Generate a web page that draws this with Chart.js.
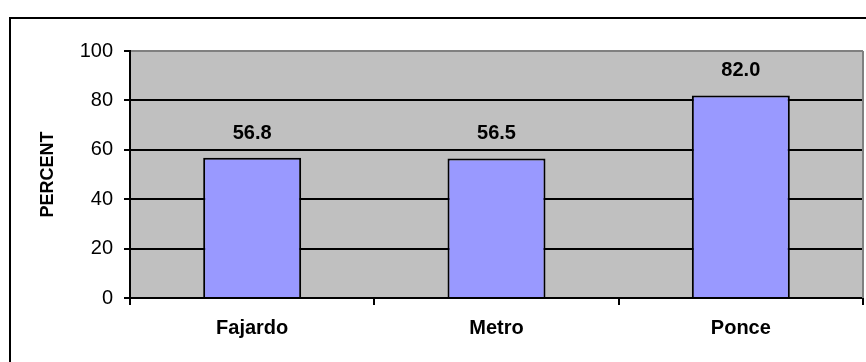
<!DOCTYPE html>
<html>
<head>
<meta charset="utf-8">
<script src="https://cdn.jsdelivr.net/npm/chart.js@4"></script>
<style>
  html, body { margin: 0; padding: 0; background: #fff; overflow: hidden; }
  #frame {
    position: absolute; left: 9px; top: 17px;
    width: 2000px; height: 2000px;
    border-left: 2px solid #000; border-top: 2px solid #000;
  }
  #percent-chart { position: absolute; left: 0; top: 0; }
</style>
</head>
<body>
<div id="frame"></div>
<canvas id="percent-chart" width="866" height="362"></canvas>
<script>
// Regions and their percentages
const regions = ['Fajardo', 'Metro', 'Ponce'];
const percentValues = [56.8, 56.5, 82.0];
const yTicks = [0, 20, 40, 60, 80, 100];

const FONT = '"Liberation Sans", Arial, sans-serif';

// Gray plot background with the gray top/right edge
const plotBackground = {
  id: 'plotBackground',
  beforeDraw(chart) {
    const { ctx, chartArea } = chart;
    ctx.save();
    ctx.fillStyle = '#c0c0c0';
    ctx.fillRect(chartArea.left, chartArea.top, chartArea.right - chartArea.left, chartArea.bottom - chartArea.top);
    ctx.restore();
  },
  afterDatasetsDraw(chart) {
    const { ctx, chartArea } = chart;
    ctx.save();
    ctx.strokeStyle = '#808080';
    ctx.lineWidth = 2;
    ctx.beginPath();
    ctx.moveTo(chartArea.right, chartArea.top);
    ctx.lineTo(chartArea.right, chartArea.bottom);
    ctx.stroke();
    ctx.restore();
  }
};

// Value above each bar
const barValues = {
  id: 'barValues',
  afterDatasetsDraw(chart) {
    const { ctx } = chart;
    const meta = chart.getDatasetMeta(0);
    ctx.save();
    ctx.font = 'bold 20px ' + FONT;
    ctx.fillStyle = '#000';
    ctx.textAlign = 'center';
    ctx.textBaseline = 'alphabetic';
    meta.data.forEach((bar, i) => {
      ctx.fillText(percentValues[i].toFixed(1), bar.x, bar.y - 19);
    });
    ctx.restore();
  }
};

const chartData = {
  labels: regions,
  datasets: [
    {
      data: percentValues,
      backgroundColor: '#9999ff',
      borderColor: '#000',
      borderWidth: 2,
      categoryPercentage: 1,
      barPercentage: 0.401
    }
  ]
};

new Chart(document.getElementById('percent-chart'), {
  type: 'bar',
  data: chartData,
  options: {
    responsive: false,
    animation: false,
    layout: { padding: { top: 51, right: 3, left: 0, bottom: 0 } },
    scales: {
      x: {
        grid: {
          offset: true,
          drawOnChartArea: false,
          tickLength: 7,
          tickColor: '#000',
          lineWidth: 2
        },
        border: { color: '#000', width: 2 },
        ticks: {
          color: '#000',
          padding: 11,
          font: { family: FONT, size: 20, weight: 'bold' }
        },
        afterFit(scale) { scale.height = 64; }
      },
      y: {
        min: 0,
        max: 100,
        afterBuildTicks(scale) { scale.ticks = yTicks.map(v => ({ value: v })); },
        grid: {
          color: ctx => (ctx.tick && ctx.tick.value === 100 ? '#808080' : '#000'),
          tickColor: '#000',
          lineWidth: 2,
          tickLength: 6
        },
        border: { color: '#000', width: 2 },
        ticks: {
          color: '#000',
          padding: 11,
          font: { family: FONT, size: 20 }
        },
        title: {
          display: true,
          text: 'PERCENT',
          color: '#000',
          padding: { top: 37, bottom: 0 },
          font: { family: FONT, size: 18, weight: 'bold' }
        },
        afterFit(scale) { scale.width = 130; }
      }
    },
    plugins: {
      legend: { display: false },
      tooltip: { enabled: false }
    }
  },
  plugins: [plotBackground, barValues]
});
</script>
</body>
</html>
